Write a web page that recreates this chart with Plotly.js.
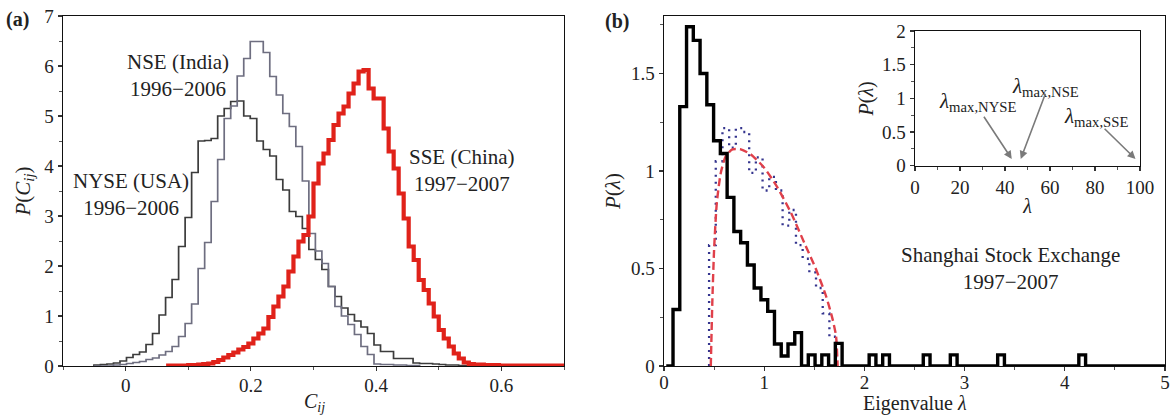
<!DOCTYPE html>
<html>
<head>
<meta charset="utf-8">
<script src="https://cdn.plot.ly/plotly-3.0.1.min.js"></script>
<style>html,body{margin:0;padding:0;background:#fff;}#chart{width:1174px;height:417px;}</style>
</head>
<body>
<div id="chart"></div>
<script>
// ---------- Panel (a): distributions of correlation coefficients C_ij ----------
const grayBinStart = -0.0506;   // left edge of first NYSE / NSE bin
const grayBinWidth = 0.0104;
const nyseP = [0.02,0.03,0.04,0.06,0.10,0.17,0.23,0.28,0.43,0.65,
               1.02,1.37,1.73,2.39,2.97,3.87,4.50,4.51,4.55,5.00,
               5.15,5.29,5.30,5.00,4.95,4.50,4.33,4.20,3.73,3.52,
               3.09,2.99,2.75,2.33,2.13,1.93,1.59,1.39,1.16,1.03,
               0.90,0.78,0.65,0.42,0.29,0.29,0.15,0.15,0.15,0.06,
               0.05,0.05,0.04,0.03,0.02,0.02,0.01,0.01];
const nseP  = [0,0,0,0.02,0.03,0.05,0.07,0.09,0.13,0.16,
               0.22,0.29,0.39,0.59,0.85,1.24,1.95,2.47,3.29,4.13,
               4.95,5.20,5.80,6.15,6.49,6.49,6.27,5.79,5.42,5.05,
               4.79,4.39,3.70,2.65,2.30,2.05,1.59,1.19,1.00,0.83,
               0.63,0.39,0.23,0.04,0.03,0.03,0.02,0.02,0.01,0.01];
const sseBinStart = 0.068;
const sseBinWidth = 0.008;
const sseP  = [0.01,0.01,0.01,0.01,0.02,0.02,0.03,0.04,0.05,0.08,
               0.12,0.17,0.22,0.27,0.33,0.38,0.45,0.55,0.65,0.75,
               0.98,1.19,1.39,1.59,1.89,2.19,2.49,2.62,2.99,3.65,
               4.05,4.25,4.52,4.82,5.05,5.19,5.45,5.65,5.89,5.92,
               5.55,5.35,5.35,4.75,4.29,3.95,3.45,2.95,2.39,2.12,
               1.72,1.52,1.25,0.99,0.72,0.55,0.39,0.25,0.15,0.07,
               0.04,0.03,0.03,0.02,0.02,0.02,0.01,0.01,0.01,0.01,
               0.01,0.01,0.01,0.01,0.01,0.01,0.01,0.01,0.01,0.01];

// ---------- Panel (b): eigenvalue distribution, SSE ----------
const eigBinStart = 0.0225;
const eigBinWidth = 0.0675;
const eigP = [0,
  0.29,1.33,1.74,1.67,1.50,1.34,1.155,1.09,0.865,0.69,
  0.632,0.518,0.40,0.34,0.28,0.113,0.051,0.113,0.171,0,
  0.057,0,0.057,0,0.116,0,0,0,0,0.057,
  0,0.057,0,0,0,0,0,0.057,0,0,
  0,0.057,0,0,0,0,0,0,0.057,0,
  0,0,0,0,0,0,0,0,0,0,
  0.057,0,0,0,0,0,0,0,0,0,
  0,0,0];
// shuffled (random) data histogram, dotted
const shufBinStart = 0.45;
const shufBinWidth = 0.0667;
const shufP = [0.62,1.05,1.22,1.12,1.22,1.20,0.99,1.07,0.90,0.97,
               0.90,0.72,0.80,0.62,0.55,0.48,0.40,0.27,0.15];
// random-matrix (Marchenko–Pastur) curve
const mpLambda = [0.467,0.483,0.500,0.527,0.567,0.617,0.683,0.767,0.867,1.000,
                  1.133,1.267,1.400,1.517,1.617,1.683,1.717,1.733];
const mpP      = [0,0.342,0.598,0.837,0.991,1.077,1.111,1.111,1.085,1.017,
                  0.915,0.786,0.632,0.496,0.359,0.239,0.154,0];

// ---------- Inset: largest eigenvalues ----------
const lambdaMaxNames = ['NYSE','NSE','SSE'];
const lambdaMax      = [43, 47, 98];

// ---------- helpers ----------
function stepXY(start, width, vals){
  const x = [start], y = [0];
  for (let i = 0; i < vals.length; i++){ x.push(start + i*width); y.push(vals[i]); }
  x.push(start + vals.length*width); y.push(0);
  return {x, y};
}

const FONT = 'Liberation Serif, Times New Roman, Times, serif';
const nyse = stepXY(grayBinStart, grayBinWidth, nyseP);
const nse  = stepXY(grayBinStart, grayBinWidth, nseP);
const sse  = stepXY(sseBinStart, sseBinWidth, sseP);
const eig  = stepXY(eigBinStart, eigBinWidth, eigP);
const shuf = stepXY(shufBinStart, shufBinWidth, shufP);

const traces = [
  {x: nyse.x, y: nyse.y, xaxis:'x', yaxis:'y', mode:'lines', line:{shape:'hv', color:'#3c3c3c', width:1.7}, name:'NYSE (USA)', hoverinfo:'skip'},
  {x: nse.x,  y: nse.y,  xaxis:'x', yaxis:'y', mode:'lines', line:{shape:'hv', color:'#6e6e80', width:1.7}, name:'NSE (India)', hoverinfo:'skip'},
  {x: sse.x,  y: sse.y,  xaxis:'x', yaxis:'y', mode:'lines', line:{shape:'hv', color:'#e0221a', width:4.2}, name:'SSE (China)', hoverinfo:'skip'},
  {x: shuf.x, y: shuf.y, xaxis:'x2', yaxis:'y2', mode:'lines', line:{shape:'hv', color:'#34348e', width:2.3, dash:'2px,5px'}, name:'shuffled', hoverinfo:'skip'},
  {x: mpLambda, y: mpP, xaxis:'x2', yaxis:'y2', mode:'lines', line:{shape:'spline', smoothing:0.6, color:'#e0404a', width:2.4, dash:'8px,4px'}, name:'RMT', hoverinfo:'skip'},
  {x: eig.x,  y: eig.y,  xaxis:'x2', yaxis:'y2', mode:'lines', line:{shape:'hv', color:'#000000', width:3.4}, name:'SSE eigenvalues', hoverinfo:'skip'},
  {x: [], y: [], xaxis:'x3', yaxis:'y3', mode:'lines', hoverinfo:'skip', name:'inset'}
];

function ax(extra){
  return Object.assign({
    showline:true, mirror:true, linecolor:'#111', linewidth:1.4,
    ticks:'outside', ticklen:4, tickwidth:1.2, tickcolor:'#333',
    showgrid:false, zeroline:false,
    tickfont:{family:FONT, size:19, color:'#222'},
    fixedrange:true
  }, extra);
}
const minor = (d) => ({dtick:d, ticks:'outside', ticklen:3, tickwidth:1, tickcolor:'#555'});

const W = 1174, H = 417;
const px = v => v / W;
const py = v => 1 - v / H;

const arrowTails = [[30.2, 0.75],[58.2, 1.09],[83.6, 0.57]];

function label(x, y, text, size){
  return {xref:'paper', yref:'paper', x:px(x), y:py(y), xanchor:'center', yanchor:'middle',
          text:text, showarrow:false, font:{family:FONT, size:size, color:'#222'}};
}
function bottomTitle(x, text){
  return {xref:'paper', yref:'paper', x:px(x), y:0, xanchor:'center', yanchor:'bottom',
          text:text, showarrow:false, font:{family:FONT, size:20, color:'#222'}};
}
const annotations = [
  label(17, 19, '<b>(a)</b>', 20),
  label(617, 21, '<b>(b)</b>', 20),
  label(178, 76, 'NSE (India)<br>1996−2006', 21),
  label(131, 194, 'NYSE (USA)<br>1996−2006', 21),
  label(462, 170, 'SSE (China)<br>1997−2007', 21),
  label(1010, 268, 'Shanghai Stock Exchange<br>1997−2007', 21),
  label(977, 102, '<i>λ</i><sub>max,NYSE</sub>', 21),
  label(1045, 87, '<i>λ</i><sub>max,NSE</sub>', 21),
  label(1096, 117, '<i>λ</i><sub>max,SSE</sub>', 21),
  // x-axis titles of the two main panels
  bottomTitle(314, '<i>C<sub>ij</sub></i>'),
  bottomTitle(915, 'Eigenvalue <i>λ</i>')
];
lambdaMax.forEach((lm, i) => {
  annotations.push({xref:'x3', yref:'y3', axref:'x3', ayref:'y3', x:lm, y:0.1,
    ax:arrowTails[i][0], ay:arrowTails[i][1], text:'', showarrow:true,
    arrowhead:2, arrowsize:1, arrowwidth:1.6, arrowcolor:'#7a7a7a'});
});

const layout = {
  width: W, height: H,
  margin:{l:0, r:0, t:0, b:0},
  paper_bgcolor:'#ffffff', plot_bgcolor:'rgba(0,0,0,0)',
  showlegend:false,
  font:{family:FONT, size:20, color:'#222'},
  xaxis: ax({domain:[px(63), px(564)], range:[-0.1, 0.7], tick0:0, dtick:0.2, minor:minor(0.1), anchor:'y', ticklabelstandoff:-2}),
  yaxis: ax({domain:[1-366/H, 1-16/H], range:[0, 7], dtick:1, minor:minor(0.5), anchor:'x',
    title:{text:'<i>P</i>(<i>C<sub>ij</sub></i>)', font:{family:FONT, size:21, color:'#222'}, standoff:8}}),
  xaxis2: ax({domain:[px(664), px(1165)], range:[0, 5], dtick:1, minor:minor(0.5), anchor:'y2', ticklabelstandoff:-5}),
  yaxis2: ax({domain:[1-366/H, 1-16/H], range:[0, 1.795], tick0:0, dtick:0.5, minor:minor(0.25), anchor:'x2',
    title:{text:'<i>P</i>(<i>λ</i>)', font:{family:FONT, size:21, color:'#222'}, standoff:4}}),
  xaxis3: ax({domain:[px(915), px(1140)], range:[0, 100], dtick:20, minor:minor(10), anchor:'y3',
    title:{text:'<i>λ</i>', font:{family:FONT, size:20, color:'#222'}, standoff:2}}),
  yaxis3: ax({domain:[1-165.7/H, 1-31/H], range:[0, 2], dtick:0.5, minor:minor(0.25), anchor:'x3',
    title:{text:'<i>P</i>(<i>λ</i>)', font:{family:FONT, size:20, color:'#222'}, standoff:3}}),
  annotations: annotations
};

Plotly.newPlot('chart', traces, layout, {staticPlot:true, displayModeBar:false});
</script>
</body>
</html>
